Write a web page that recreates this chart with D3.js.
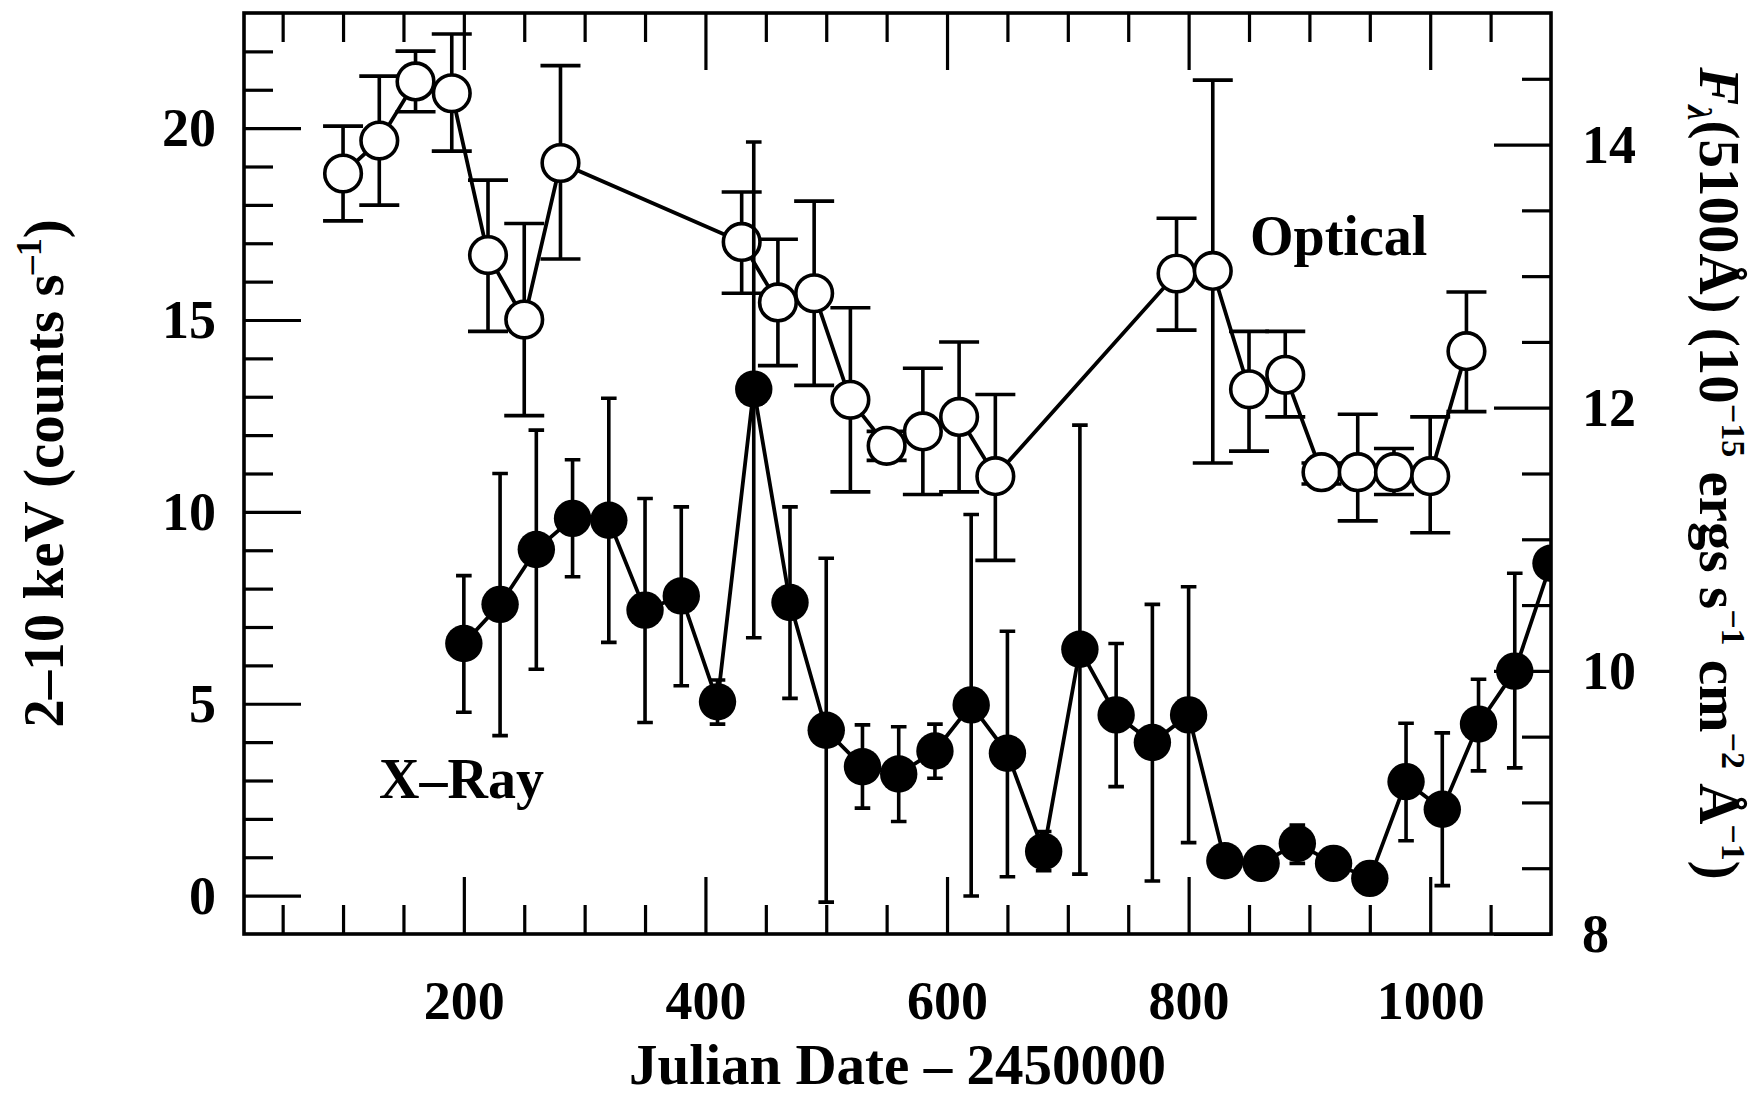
<!DOCTYPE html>
<html>
<head>
<meta charset="utf-8">
<script src="https://cdnjs.cloudflare.com/ajax/libs/d3/7.8.5/d3.min.js"></script>
<style>
    body { margin: 0; background: #fff; }
    text { font-family: "Liberation Serif", "Times New Roman", serif; font-weight: bold; fill: #000; }
</style>
</head>
<body>
<div id="chart"></div>
<script>
// Optical continuum at 5100A (right axis), JD - 2450000
const optDate = [100, 130, 160, 190, 220, 250, 280, 430, 460, 490, 520, 550, 580, 610, 640, 790, 820, 850, 880, 910, 940, 970, 1000, 1030];
const optFlux = [13.78, 14.03, 14.48, 14.39, 13.16, 12.67, 13.86, 13.26, 12.80, 12.87, 12.06, 11.71, 11.82, 11.93, 11.48, 13.02, 13.04, 12.14, 12.25, 11.51, 11.51, 11.51, 11.48, 12.43];
const optHi   = [14.14, 14.52, 14.71, 14.84, 13.73, 13.40, 14.60, 13.64, 13.28, 13.57, 12.76, 11.82, 12.30, 12.50, 12.10, 13.44, 14.49, 12.58, 12.58, 11.58, 11.95, 11.69, 11.93, 12.88];
const optLo   = [13.42, 13.54, 14.25, 13.95, 12.58, 11.94, 13.13, 12.87, 12.32, 12.17, 11.36, 11.60, 11.34, 11.36, 10.84, 12.59, 11.58, 11.67, 11.93, 11.42, 11.14, 11.34, 11.05, 11.97];

// 2-10 keV count rate (left axis)
const xrDate = [200, 230, 260, 290, 320, 350, 380, 410, 440, 470, 500, 530, 560, 590, 620, 650, 680, 710, 740, 770, 800, 830, 860, 890, 920, 950, 980, 1010, 1040, 1070, 1100];
const xrRate = [6.57, 7.59, 9.02, 9.83, 9.78, 7.44, 7.81, 5.05, 13.20, 7.64, 4.31, 3.36, 3.17, 3.77, 4.97, 3.71, 1.15, 6.42, 4.71, 3.99, 4.71, 0.91, 0.84, 1.36, 0.84, 0.45, 2.97, 2.25, 4.47, 5.85, 8.66];
const xrHi   = [8.34, 11.00, 12.13, 11.36, 12.96, 10.35, 10.13, 5.62, 19.64, 10.13, 8.79, 4.45, 4.40, 4.47, 9.93, 6.89, 1.67, 12.26, 6.57, 7.59, 8.05, 0.91, 0.84, 1.84, 0.84, 0.45, 4.49, 4.24, 5.64, 8.40, 8.66];
const xrLo   = [4.78, 4.17, 5.90, 8.31, 6.60, 4.51, 5.47, 4.47, 6.72, 5.14, -0.17, 2.28, 1.93, 3.06, -0.01, 0.49, 0.65, 0.56, 2.84, 0.38, 1.38, 0.91, 0.84, 0.84, 0.84, 0.45, 1.43, 0.26, 3.25, 3.33, 8.66];

// tick values
const xMajor = [200, 400, 600, 800, 1000];
const xMinor = [50, 100, 150, 250, 300, 350, 450, 500, 550, 650, 700, 750, 850, 900, 950, 1050];
const yLMajor = [0, 5, 10, 15, 20];
const yLMinor = [1, 2, 3, 4, 6, 7, 8, 9, 11, 12, 13, 14, 16, 17, 18, 19, 21, 22];
const yRMajor = [8, 10, 12, 14];
const yRMinor = [8.5, 9, 9.5, 10.5, 11, 11.5, 12.5, 13, 13.5, 14.5];

const W = 1761, H = 1099;
const plot = { left: 244, right: 1551, top: 13, bottom: 934 };
const majorLen = 57, minorLen = 29;

const svg = d3.select('#chart').append('svg')
    .attr('width', W)
    .attr('height', H);

const x = d3.scaleLinear().domain([18, 1100]).range([plot.left, plot.right]);
const yL = d3.scaleLinear().domain([-1, 23]).range([plot.bottom, plot.top]);
const yR = d3.scaleLinear().domain([8, 15]).range([plot.bottom, plot.top]);

svg.append('defs').append('clipPath').attr('id', 'plotClip')
    .append('rect')
    .attr('x', plot.left).attr('y', plot.top)
    .attr('width', plot.right - plot.left).attr('height', plot.bottom - plot.top);

// axes: inward ticks, separate calls for long and short ticks
function addAxis(axis, tx, ty) {
    const g = svg.append('g')
        .attr('transform', `translate(${tx},${ty})`)
        .call(axis)
        .attr('font-family', null)
        .attr('font-size', 54);
    g.select('.domain').remove();
    g.selectAll('line').attr('stroke', '#000').attr('stroke-width', 3.2);
    return g;
}

addAxis(d3.axisBottom(x).tickValues(xMajor).tickSize(-majorLen).tickPadding(47).tickFormat(d3.format('d')), 0, plot.bottom);
addAxis(d3.axisBottom(x).tickValues(xMinor).tickSize(-minorLen).tickFormat(''), 0, plot.bottom);
addAxis(d3.axisTop(x).tickValues(xMajor).tickSize(-majorLen).tickFormat(''), 0, plot.top);
addAxis(d3.axisTop(x).tickValues(xMinor).tickSize(-minorLen).tickFormat(''), 0, plot.top);

addAxis(d3.axisLeft(yL).tickValues(yLMajor).tickSize(-majorLen).tickPadding(28).tickFormat(d3.format('d')), plot.left, 0)
    .selectAll('text').attr('dy', '0.33em');
addAxis(d3.axisLeft(yL).tickValues(yLMinor).tickSize(-minorLen).tickFormat(''), plot.left, 0);

addAxis(d3.axisRight(yR).tickValues(yRMajor).tickSize(-majorLen).tickPadding(31).tickFormat(d3.format('d')), plot.right, 0)
    .selectAll('text').attr('dy', '0.33em');
addAxis(d3.axisRight(yR).tickValues(yRMinor).tickSize(-minorLen).tickFormat(''), plot.right, 0);

// data
const optical = optDate.map((d, i) => ({ date: d, val: optFlux[i], hi: optHi[i], lo: optLo[i] }));
const xray = xrDate.map((d, i) => ({ date: d, val: xrRate[i], hi: xrHi[i], lo: xrLo[i] }));

const dataG = svg.append('g').attr('clip-path', 'url(#plotClip)');

function drawSeries(data, y, capHalf, filled) {
    const g = dataG.append('g');

    g.append('path')
        .datum(data)
        .attr('fill', 'none')
        .attr('stroke', '#000')
        .attr('stroke-width', 3.8)
        .attr('d', d3.line().x(d => x(d.date)).y(d => y(d.val)));

    g.selectAll('.err')
        .data(data)
        .enter()
        .append('path')
        .attr('class', 'err')
        .attr('fill', 'none')
        .attr('stroke', '#000')
        .attr('stroke-width', 3.6)
        .attr('d', d => {
            const cx = x(d.date), y1 = y(d.hi), y2 = y(d.lo);
            return `M${cx},${y1}V${y2}M${cx - capHalf},${y1}H${cx + capHalf}M${cx - capHalf},${y2}H${cx + capHalf}`;
        });

    g.selectAll('circle')
        .data(data)
        .enter()
        .append('circle')
        .attr('cx', d => x(d.date))
        .attr('cy', d => y(d.val))
        .attr('r', filled ? 18.7 : 18.3)
        .attr('fill', filled ? '#000' : '#fff')
        .attr('stroke', '#000')
        .attr('stroke-width', filled ? 0 : 3.6);
}

drawSeries(optical, yR, 20, false);
drawSeries(xray, yL, 7.8, true);

// frame
svg.append('rect')
    .attr('x', plot.left).attr('y', plot.top)
    .attr('width', plot.right - plot.left).attr('height', plot.bottom - plot.top)
    .attr('fill', 'none')
    .attr('stroke', '#000')
    .attr('stroke-width', 3.6);

// series labels
svg.append('text').attr('x', 1250).attr('y', 255).attr('font-size', 56).text('Optical');
svg.append('text').attr('x', 379).attr('y', 798).attr('font-size', 56).text('X–Ray');

// axis titles
const midY = (plot.top + plot.bottom) / 2;

svg.append('text')
    .attr('x', (plot.left + plot.right) / 2)
    .attr('y', 1084)
    .attr('text-anchor', 'middle')
    .attr('font-size', 57)
    .text('Julian Date – 2450000');

const leftTitle = svg.append('text')
    .attr('transform', `translate(63,${midY}) rotate(-90)`)
    .attr('text-anchor', 'middle')
    .attr('font-size', 57);
leftTitle.append('tspan').text('2–10 keV (counts s');
leftTitle.append('tspan').attr('dy', -22).attr('font-size', 36).text('–1');
leftTitle.append('tspan').attr('dy', 22).text(')');

const rightTitle = svg.append('text')
    .attr('transform', `translate(1700,${midY}) rotate(90)`)
    .attr('text-anchor', 'middle')
    .attr('font-size', 57);
rightTitle.append('tspan').attr('font-style', 'italic').text('F');
rightTitle.append('tspan').attr('dy', 12).attr('font-size', 34).attr('font-style', 'italic').text('λ');
rightTitle.append('tspan').attr('dy', -12).text('(5100Å) (10');
rightTitle.append('tspan').attr('dy', -22).attr('font-size', 34).text('−15');
rightTitle.append('tspan').attr('dy', 22).text(' ergs s');
rightTitle.append('tspan').attr('dy', -22).attr('font-size', 34).text('−1');
rightTitle.append('tspan').attr('dy', 22).text(' cm');
rightTitle.append('tspan').attr('dy', -22).attr('font-size', 34).text('−2');
rightTitle.append('tspan').attr('dy', 22).text(' Å');
rightTitle.append('tspan').attr('dy', -22).attr('font-size', 34).text('−1');
rightTitle.append('tspan').attr('dy', 22).text(')');
</script>
</body>
</html>
